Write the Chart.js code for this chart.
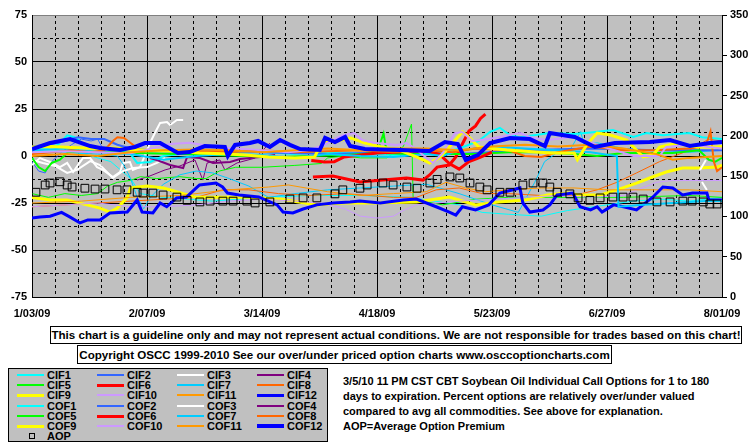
<!DOCTYPE html>
<html>
<head>
<meta charset="utf-8">
<script src="https://cdn.jsdelivr.net/npm/chart.js@4"></script>
<style>
body{margin:0;width:755px;height:446px;position:relative;overflow:hidden;background:#fff;
  font-family:"Liberation Sans",Arial,sans-serif;font-weight:bold;font-size:11px;color:#000}
#c{position:absolute;left:0;top:0}
.note{position:absolute;border:1px solid #000;box-sizing:border-box;text-align:center;white-space:nowrap;font-size:11.6px;color:#000}
#legend{position:absolute;left:8px;top:368px;width:320px;height:74px;background:#c0c0c0;border:1px solid #000;box-sizing:border-box}
.item{position:absolute;height:10px;width:78px}
.swatch{position:absolute;left:0;width:27px;height:0}
.lbl{position:absolute;left:30px;top:0;font-size:11px;line-height:10px;color:#000000;white-space:nowrap}
#info{position:absolute;left:343px;top:374px;line-height:15px;white-space:nowrap;color:#000}
</style>
</head>
<body>
<canvas id="c" width="755" height="322"></canvas>
<div class="note" style="left:50px;top:326px;width:692px;height:18px;line-height:16px">This chart is a guideline only and may not represent actual conditions. We are not responsible for trades based on this chart!</div>
<div class="note" style="left:77px;top:345px;width:535px;height:19px;line-height:17px">Copyright OSCC 1999-2010 See our over/under priced option charts www.osccoptioncharts.com</div>
<div id="legend"></div>
<div id="info">3/5/10 11 PM CST CBT Soybean Oil Individual Call Options for 1 to 180<br>days to expiration. Percent options are relatively over/under valued<br>compared to avg all commodities. See above for explanation.<br>AOP=Average Option Premium</div>
<script>
// x = days since 1/03/09, y = percent over/under (left axis)
const dateLabels = ['1/03/09','2/07/09','3/14/09','4/18/09','5/23/09','6/27/09','8/01/09'];
const seriesNames = ['CIF1','CIF2','CIF3','CIF4','CIF5','CIF6','CIF7','CIF8','CIF9','CIF10','CIF11','CIF12',
                     'COF1','COF2','COF3','COF4','COF5','COF6','COF7','COF8','COF9','COF10','COF11','COF12'];
const seriesColors = ['#00FFFF','#3366FF','#FFFFFF','#800080','#00FF00','#FF0000','#00CCFF','#FF6600','#FFFF00','#CC99FF','#FF9900','#0000FF',
                      '#00FFFF','#3366FF','#FFFFFF','#800080','#00FF00','#FF0000','#00CCFF','#FF6600','#FFFF00','#CC99FF','#FF9900','#0000FF'];
const seriesWidths = [1,1,2,1,1,3,1,1,3,1,1,3, 2,2,2,2,2,3,2,2,3,2,2,4];

const CIF1 = [[0,2],[8,3],[16,1],[24,-3],[30,-12],[33,-20],[40,-22],[55,-24],[70,-22],[85,-21],[100,-21],[115,-22],[130,-26],[137,-30],[145,-31],[155,-32],[163,-29],[175,-26],[183,-24],[192,-23],[200,-24],[210,-22]];
const CIF2 = [[0,-3],[2,-8],[4,-9],[6,-3],[9,2],[12,6],[15,9],[18,8],[20,9],[21.5,4]];
const CIF3 = [[0,-4.8],[2.4,-1.1],[5.5,-3.2],[8.5,-5.9],[10.7,-3.7],[12.5,-8.5],[15.5,-1.1],[17.7,-1.1],[19.8,-5.9],[21.6,-7.4],[24.6,-11.2],[26.8,-8.5],[27.7,-3.7],[29.8,-3.2],[30.7,-7.4],[32.9,-5.9],[35.9,6.9],[37.4,12.2],[39,17.6],[41.1,18.1],[42,16.5],[44.1,19.2],[46,19.2],[100,null],[203.9,-13.8],[205.4,-18.1]];
const CIF4 = [[32,-12.8],[35.9,-10.6],[40.5,-7.4],[45,-5.3],[49.6,-2.1],[52,-12.8],[53.3,-3.7],[57.2,-2.1],[58.7,-7.4],[62.4,-3.7],[67.9,-1.1],[72.4,6.9]];
const CIF5 = [[0,-20],[5,-22],[10,-20],[15,-21],[20,-20],[23,-16],[26,-14],[30,-13],[33,-11],[38,-12],[45,-11],[50,-12],[53,-12],[57,-8],[62,-6],[70,-6],[80,-5],[88,-4],[90,-1],[95,0],[100,-1],[108,-1],[113,5],[115.5,17],[116,-23],[125,-26],[135,-23],[145,-22],[160,-22],[180,-22],[200,-21],[210,-22]];
const CIF6 = [[85.5,-11.2],[91.6,-10.6],[99.8,-13.8],[106.8,-12.8],[114,-11.7],[119,-12.8],[121,-10.1],[123.3,-5.9],[127,-4.8],[129,-0.5],[130.5,4.8],[133,13.3],[135,16],[136.5,20],[138,22.3]];
const CIF7 = [[0,3],[10,2],[20,1],[26,0],[28,-5],[30,-12],[32,-22],[34,-28],[36,-22],[40,-15],[45,-10],[50,-8],[55,-9],[60,-12],[66,-16],[72,-22],[80,-20],[90,-18],[100,-17],[110,-16],[120,-15],[130,-20],[140,-26],[148,-30],[153,-14],[156,-3],[160,2],[164,4],[167,13],[168,6],[172,7],[180,4],[190,3],[200,2],[210,3]];
const CIF8 = [[0,-27],[10,-26],[20,-25],[30,-24],[40,-23],[50,-22],[58,-18],[66,-18],[75,-20],[85,-21],[95,-20],[110,-22],[117,-22],[123,-18],[130,-17],[137,-20],[145,-20],[155,-21],[165,-21],[172,-18],[178,-14],[184,-9],[191,-3],[200,3],[206,9],[210,8]];
const CIF9 = [[0,-22],[5.5,-23.4],[10.7,-23.4],[16.7,-26],[20.7,-27.7],[23.7,-29.8],[26,-27.7],[29,-22],[30,-17],[35,-16],[40,-17],[44,-19],[50,-22],[60,-22],[66,-22],[76,-23],[86.7,-26],[94.6,-25],[104,-25],[117,-24.5],[127,-21.8],[135,-26],[142,-24.5],[150,-23.4],[157,-20.7],[163,-19.7],[166.5,-20.7],[173,-20.7],[178,-18],[184,-14.4],[188,-11.7],[193,-8.5],[198,-6.4],[203,-6.4],[208.5,-5.9],[210,-4.8]];
const CIF10 = [[0,-27],[10,-26],[20,-25],[30,-27],[40,-27],[50,-26],[60,-24],[70,-23],[80,-24],[88,-25],[95,-28],[100,-32],[105,-33],[110,-32],[113,-29],[117,-26],[123,-25],[130,-24],[140,-23],[150,-22],[160,-21],[170,-22],[180,-21],[190,-14],[195,-13],[205,-13],[210,-13]];
const CIF11 = [[0,-25],[15,-24],[30,-22],[45,-21],[60,-18],[72,-16.5],[78,-15.4],[90,-19],[100,-21],[110,-20],[120,-19],[126,-14],[132,-17],[138,-19],[145,-18],[155,-17],[165,-17],[175,-18],[190,-18],[200,-18],[210,-19]];
const CIF12 = [[0,-33],[2.4,-32.5],[5.5,-32],[9,-30],[11.6,-32.5],[14.6,-35.6],[17,-34],[20.7,-34],[23.7,-30.3],[29,-29.8],[32,-23.4],[33.5,-29.8],[36.8,-30.3],[39,-25],[41,-27],[44,-22.3],[47,-21.8],[50,-17],[51,-15.4],[56,-14.4],[58,-16.5],[59.5,-19.7],[63,-20.7],[69,-21.8],[74.6,-26],[76.4,-29.8],[79.4,-30.3],[82.5,-28.2],[86.7,-26],[91.6,-25],[96.8,-24.5],[99.8,-24],[106,-25],[113,-23.4],[117,-22.9],[123,-27],[127,-29.8],[129,-31.4],[131,-27],[135,-28.7],[139,-26],[142.4,-19.7],[148.5,-17],[149.4,-25],[151.5,-29.8],[155.5,-28.7],[157.6,-26],[159.8,-20.7],[164.6,-19.7],[166.8,-27],[170,-28.7],[172,-27],[173.5,-29.8],[177,-26],[180,-27],[184,-28.7],[187,-24.5],[189,-21.8],[192,-16.5],[195,-17],[198,-20.7],[201,-19.7],[205.4,-19.7],[206,-23.4],[210,-23.4]];
const COF1 = [[0,3.2],[4,4],[8,6],[10.7,11],[13,10],[16,6],[20,4],[26,3],[30,1],[32,-3.7],[36,-3.2],[40,0],[45,1],[50,1.6],[60,2],[70,2],[80,1],[90,2],[100,1.6],[110,0.5],[120,1],[126,2],[130,4],[136,8],[139.4,12.8],[142.4,15],[145.5,11],[148.5,10],[157.6,12.2],[165,11.7],[170,12.5],[176.8,13.8],[183,10.1],[187,12.2],[192,11],[200,12.2],[204,10],[210,9]];
const COF2 = [[0,5],[5,6],[10,8],[14,10],[18,9],[22,9],[26,6],[30,4],[36,3],[45,2],[55,3],[70,2],[90,1],[110,2],[130,1],[150,3],[170,4],[190,3],[210,3]];
const COF3 = [[0,-2.1],[3.3,-3.7],[7,-5.3],[10.7,-9],[13.7,-7.4],[17.7,-2.7],[20.7,-4.8],[24.6,-11.7],[27.7,-8],[30.7,-6.4],[35,-5.9],[38,-3.7],[40.5,-1.1],[100,null],[203.3,-7.4],[205.1,-2.1]];
const COF4 = [[35.9,-1.1],[38,-2.1],[42,-4.8],[46,-6.4],[47.2,-0.5],[51.1,-1.1],[55.1,-3.7],[60.3,-3.2],[63.3,-1.6],[69.4,-0.5],[74,0.5]];
const COF5 = [[0,-1],[2,-5.9],[4,-8],[6,-3.7],[8.5,-2],[11,2],[15,2.5],[25,2],[35,1.5],[45,1],[55,0.5],[65,0],[75,-0.5],[85,0],[95,0.5],[100,1],[105,2],[107,12],[108,1.5],[115,1],[125,1],[135,1],[145,2],[155,2],[165,1],[172,0],[180,1.6],[195,1.6],[203,3],[206,-2],[208,-3],[210,-1]];
const COF6 = [[85,-2.4],[89,-3.2],[92,-3],[95,-0.5],[100,0.5],[105,1.6],[110,2],[115,2.5],[120,2.5],[124,1],[127,-4],[130,-7],[133,-3],[136,-1],[140,2]];
const COF7 = [[0,3],[10,4],[20,2],[30,1],[40,-2],[50,0],[60,1],[70,0.5],[80,-1],[90,1],[100,0],[110,-0.5],[120,1],[125,0],[130,3],[140,5],[150,4],[160,3],[170,2],[178,0],[178.5,-27],[185,-26],[195,-25],[205,-24],[210,-24]];
const COF8 = [[0,1],[6,2],[12,3],[18,2],[22,3],[24.6,8],[26,10],[28,9.6],[30,6.9],[33,3],[40,3],[50,2.5],[60,2],[70,3],[80,2],[90,2.5],[100,3],[110,2],[120,3],[128,2],[135,4],[145,3],[150,0],[155,-0.5],[160,2],[170,5],[180,3],[190,3],[200,4],[205,5],[206.5,13],[207.5,-3],[208.5,-8],[210,-6]];
const COF9 = [[0,4.8],[6,5],[12,4.5],[20,4],[25,4.3],[30,3.5],[36,3],[44,2.5],[51,1.6],[58,1.2],[65,0.5],[72,-0.5],[80,-1],[86,-0.5],[87.6,5],[90,8.5],[94,8.5],[97,9.6],[101,7],[106,5],[112,3],[117,-0.5],[119,-2],[121,-3.7],[124,-1],[127,4.8],[131,12.8],[133,10],[136,4.8],[144.5,3.2],[158,1.6],[165,1.6],[166,-2],[169,6.4],[172,12.2],[176,11.2],[181,8.5],[186,-0.5],[189,0.5],[191,4.8],[195,6.4],[203,4.8],[208.5,4.8],[210,5]];
const COF10 = [[0,2],[10,2.5],[20,2],[30,1.5],[34,3],[42,6.4],[48,7],[55,5],[62,4],[70,3],[78,2],[84,3],[89,6],[92,9],[94.6,11],[98,12.2],[100.5,8.5],[104,7],[111,5.9],[114,6.9],[116,4.8],[122,-3.7],[125,1.6],[128.7,12.2],[131,12.8],[134,8],[139,9],[148.5,12.2],[151.5,10.1],[156.7,8.5],[164.6,10.1],[172,6],[183,0],[191,0],[193,4.8],[200,6],[210,4]];
const COF11 = [[0,0],[10,1],[20,0],[30,2],[40,3],[50,3.5],[60,3],[70,2],[80,3],[90,4],[100,3],[110,4],[120,4],[130,3],[140,5],[150,6],[160,5],[170,6],[180,4],[190,1],[195,-2],[200,-1],[210,0]];
const COF12 = [[0,3.7],[5.5,6.9],[11.6,9],[17.7,5.3],[20.7,4.3],[26.8,3.2],[31.3,4.8],[34.4,6.9],[39,6.9],[44.4,1.6],[48,2.1],[52.6,5.3],[58.7,4.8],[59.6,0],[61.8,5.9],[66.3,6.9],[68.8,8],[72.4,4.8],[75.5,8.5],[78.5,5.9],[81.6,3.7],[87.6,3.2],[89.2,9.6],[92.2,7.4],[95.3,10.1],[96.8,5.3],[101.3,3.7],[112,3.2],[121,2.7],[125.7,7.4],[129.6,6.4],[132,-2.1],[135.7,0.5],[139.4,6.9],[145.5,9.6],[151.5,9],[156.1,5.3],[157.6,12.2],[165.2,10.1],[171.3,4.8],[177.4,6.9],[188,7.4],[194.2,8.5],[200.2,5.3],[206.3,6.9],[210,7.4]];

// Average Option Premium, right axis
const AOP = [[1.2,130],[4,139],[5.5,141.5],[8.5,143],[10.7,139],[12.2,136.5],[16.1,135],[19.2,134],[22.2,134],[25.9,133],[28.9,133],[32,130],[33.8,129],[36.8,129],[39.9,126.6],[44.1,124],[47.2,120],[51.1,118],[54.2,119],[58.1,119],[61.2,119],[65.4,119],[67.9,116.7],[72.4,118],[78.5,121.6],[82.5,123],[86.7,123],[92.2,128],[94.6,133],[99.8,135],[102,139],[106.8,141.5],[109.9,139],[114.1,136.5],[117.2,135],[121.1,141.5],[123.3,146],[127.2,149],[130.2,147.7],[133.3,141.5],[136.3,136.5],[138.5,133],[142.4,130],[145.5,130],[149.4,139],[152.5,141.5],[155.5,141.5],[157.6,136.5],[159.8,130],[163.7,128],[166.2,123],[169.8,120],[172.9,123],[176.8,124],[179.9,124],[182.9,124],[186,121.6],[190.2,118],[194.2,118],[198.1,119],[200.9,119],[204.3,118],[206.3,115.4],[208.5,115.4]];

const seriesData = [CIF1,CIF2,CIF3,CIF4,CIF5,CIF6,CIF7,CIF8,CIF9,CIF10,CIF11,CIF12,
                    COF1,COF2,COF3,COF4,COF5,COF6,COF7,COF8,COF9,COF10,COF11,COF12];

const tickFont = {family:'"Liberation Sans", Arial, sans-serif', size:11, weight:'bold'};
const toXY = arr => arr.map(p => ({x:p[0], y:p[1]}));

const datasets = seriesData.map((d, i) => ({
  label: seriesNames[i],
  data: toXY(d),
  borderColor: seriesColors[i],
  backgroundColor: seriesColors[i],
  borderWidth: seriesWidths[i],
  pointRadius: 0,
  tension: 0,
  yAxisID: 'y',
  order: 30 - i
}));
datasets.push({
  label: 'AOP',
  data: toXY(AOP),
  showLine: false,
  pointStyle: 'rect',
  pointRadius: 5.5,
  borderColor: '#000',
  backgroundColor: 'rgba(0,0,0,0)',
  borderWidth: 1,
  yAxisID: 'yR',
  order: 0
});

const plotBg = {
  id: 'plotBg',
  beforeDraw(chart) {
    const {ctx, chartArea: a} = chart;
    ctx.save();
    ctx.fillStyle = '#c0c0c0';
    ctx.fillRect(a.left, a.top, a.right - a.left, a.bottom - a.top);
    ctx.restore();
  }
};

new Chart(document.getElementById('c'), {
  type: 'line',
  data: {datasets},
  plugins: [plotBg],
  options: {
    responsive: false,
    animation: false,
    layout: {padding: {top: 15}},
    plugins: {legend: {display: false}, tooltip: {enabled: false}},
    scales: {
      x: {
        type: 'linear', min: 0, max: 210, position: 'bottom',
        ticks: {stepSize: 35, autoSkip: false, maxRotation: 0, padding: 10, color: '#000', font: tickFont,
                callback: v => dateLabels[Math.round(v / 35)]},
        grid: {color: '#000', drawTicks: false},
        border: {color: '#000'},
        afterFit(s) { s.height = 25; }
      },
      xMinor: {
        type: 'linear', min: 0, max: 210, position: 'bottom',
        ticks: {stepSize: 7, display: false},
        grid: {color: c => c.tick.value % 35 === 0 ? 'rgba(0,0,0,0)' : '#000', drawTicks: false},
        border: {display: false, dash: [3, 3]},
        afterFit(s) { s.height = 0; }
      },
      y: {
        min: -75, max: 75, position: 'left',
        ticks: {stepSize: 25, padding: 5, color: '#000', font: tickFont},
        grid: {color: c => c.tick.value === 75 ? '#808080' : '#000', drawTicks: false},
        border: {color: '#000'},
        afterFit(s) { s.width = 32; }
      },
      yMinor: {
        min: -75, max: 75, position: 'left',
        ticks: {stepSize: 12.5, display: false},
        grid: {color: c => c.tick.value % 25 === 0 ? 'rgba(0,0,0,0)' : '#000', drawTicks: false},
        border: {display: false, dash: [3, 3]},
        afterFit(s) { s.width = 0; }
      },
      yR: {
        min: 0, max: 350, position: 'right',
        ticks: {stepSize: 50, padding: 3, color: '#000', font: tickFont},
        grid: {drawOnChartArea: false, drawTicks: true, tickLength: 5, tickColor: '#000'},
        border: {color: '#000'},
        afterFit(s) { s.width = 33; }
      }
    }
  }
});

// legend box, built from the same series lists
const legend = document.getElementById('legend');
seriesNames.concat(['AOP']).forEach((name, i) => {
  const row = Math.floor(i / 4), col = i % 4;
  const item = document.createElement('div');
  item.className = 'item';
  item.style.left = (8 + col * 80) + 'px';
  item.style.top = Math.round(1 + row * 10.2) + 'px';
  const sw = document.createElement('div');
  sw.className = 'swatch';
  if (name === 'AOP') {
    sw.style.cssText = 'left:12px;top:2px;width:6px;height:6px;border:1px solid #000;box-sizing:border-box';
  } else {
    const w = Math.max(seriesWidths[i], 2);
    sw.style.top = (5 - Math.floor(w / 2)) + 'px';
    sw.style.borderTop = w + 'px solid ' + seriesColors[i];
  }
  const tx = document.createElement('div');
  tx.className = 'lbl';
  tx.textContent = name;
  item.appendChild(sw);
  item.appendChild(tx);
  legend.appendChild(item);
});
</script>
</body>
</html>
